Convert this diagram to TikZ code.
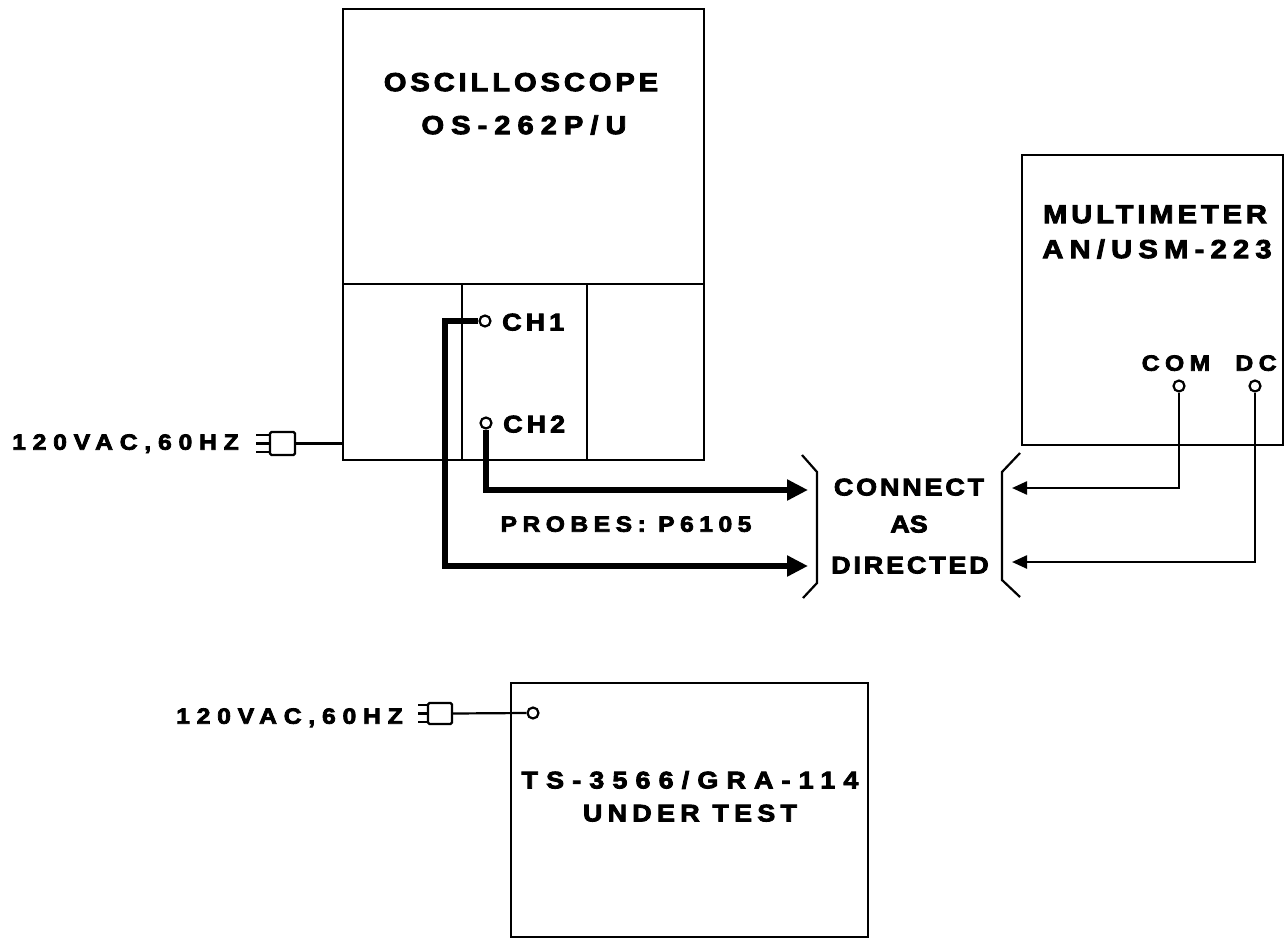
\documentclass[tikz,border=0pt]{standalone}
\usepackage{fontspec}
\setmainfont{Liberation Sans}
\newcommand\mkfam[2]{\newfontfamily#1{Liberation Sans Bold}[LetterSpace=#2,FakeStretch=1.12,FakeBold=3.5]}
\mkfam\lsA{0}
\mkfam\lsB{12}
\mkfam\lsC{15}
\mkfam\lsD{17}
\mkfam\lsE{22}
\mkfam\lsF{24}
\mkfam\lsG{25}
\mkfam\lsH{27}
\mkfam\lsI{31}
\mkfam\lsJ{34}
\usetikzlibrary{arrows.meta}
\tikzset{
  box/.style={draw, line width=2.8pt, inner sep=0pt, outer sep=0pt},
  term/.style={draw, circle, fill=white, line width=2.2pt, minimum size=11pt, inner sep=0pt},
  plug/.style={draw, line width=2.2pt, rounded corners=1.5pt, inner sep=0pt},
  lab/.style n args={3}{font=#1\fontsize{#2}{#2}\selectfont, text height=#3, text depth=0pt, inner sep=0pt},
  thin/.style={line width=2.2pt},
  probe/.style={line width=6pt, line join=miter, -{Triangle[length=21pt,width=20pt]}},
  lead/.style={line width=2.4pt, -{Triangle[length=15pt,width=13pt]}},
  brk/.style={line width=2.2pt}
}
\begin{document}
\begin{tikzpicture}[x=1pt,y=-1pt]
\useasboundingbox (0,0) rectangle (1285,939);
% boxes
\node[box, minimum width=361pt, minimum height=451pt] (osc) at (523.5,234.5) {};
\node[box, minimum width=261pt, minimum height=290pt] (mm) at (1152.5,300) {};
\node[box, minimum width=357pt, minimum height=254pt] (ts) at (689.5,810) {};
% oscilloscope panel dividers
\draw[line width=2.8pt] (343,284) -- (704,284);
\draw[line width=2.8pt] (462,284) -- (462,460);
\draw[line width=2.8pt] (587,284) -- (587,460);
% labels
\node[lab={\lsC}{26}{18.2pt}] (t1) at (521,82) {OSCILLOSCOPE};
\node[lab={\lsH}{26}{18.2pt}] (t2) at (524,125) {OS-262P/U};
\node[lab={\lsC}{26}{18.2pt}] (t3) at (1155,214) {MULTIMETER};
\node[lab={\lsF}{26}{18.2pt}] (t4) at (1157,249) {AN/USM-223};
\node[lab={\lsJ}{24}{16.8pt}] (t5) at (690,780) {TS-3566/GRA-114};
\node[lab={\lsE}{24}{16.8pt}] (t6) at (690,813) {UNDER TEST};
\node[lab={\lsB}{24}{16.8pt}] (c1) at (909,487) {CONNECT};
\node[lab={\lsA}{24}{16.8pt}] (c2) at (909,524) {AS};
\node[lab={\lsB}{24}{16.8pt}] (c3) at (910,565) {DIRECTED};
\node[lab={\lsG}{22}{15.4pt}] (pr) at (626,524) {PROBES: P6105};
% terminals
\node[term] (ch1) at (485,321) {};
\node[term] (ch2) at (486,423) {};
\node[lab={\lsD}{24}{16.8pt}, anchor=west] (ch1t) at (502,322) {CH1};
\node[lab={\lsD}{24}{16.8pt}, anchor=west] (ch2t) at (503,424) {CH2};
\node[term] (com) at (1179,386) {};
\node[term] (dc) at (1255,386) {};
\node[lab={\lsG}{22}{15.4pt}] (comt) at (1176,363) {COM};
\node[lab={\lsG}{22}{15.4pt}] (dct) at (1256,363) {DC};
\node[term] (tsin) at (533,713) {};
% power plugs
\node[lab={\lsI}{22}{15.4pt}, anchor=west] (p1t) at (12,442) {120VAC,60HZ};
\node[plug, minimum width=25pt, minimum height=23pt] (plug1) at (282.5,443.5) {};
\draw[thin] (256,435) -- (plug1.west |- 0,435);
\draw[thin] (256,443.5) -- (plug1.west);
\draw[thin] (256,452) -- (plug1.west |- 0,452);
\draw[thin] (plug1.east) -- (plug1.east -| osc.west);
\node[lab={\lsI}{22}{15.4pt}, anchor=west] (p2t) at (176,716) {120VAC,60HZ};
\node[plug, minimum width=24pt, minimum height=21pt] (plug2) at (440,713.5) {};
\draw[thin] (418,705) -- (plug2.west |- 0,705);
\draw[thin] (418,713.5) -- (plug2.west);
\draw[thin] (418,722) -- (plug2.west |- 0,722);
\draw[thin] (plug2.east) -- (tsin.west);
% probes
\coordinate (a1) at (808,566);
\coordinate (a2) at (808,490);
\draw[probe] (ch1.west) -- (445,321) -- (445,566) -- (a1);
\draw[probe] (ch2.south) -- (486,490) -- (a2);
% multimeter leads
\coordinate (b1) at (1012,488);
\coordinate (b2) at (1012,562);
\draw[lead] (com.south) -- (1179,488) -- (b1);
\draw[lead] (dc.south) -- (1255,562) -- (b2);
% brackets
\draw[brk] (802,455) -- (817,472) -- (817,583) -- (803,598);
\draw[brk] (1020,453) -- (1002,472) -- (1002,580) -- (1020,597);
\end{tikzpicture}
\end{document}
